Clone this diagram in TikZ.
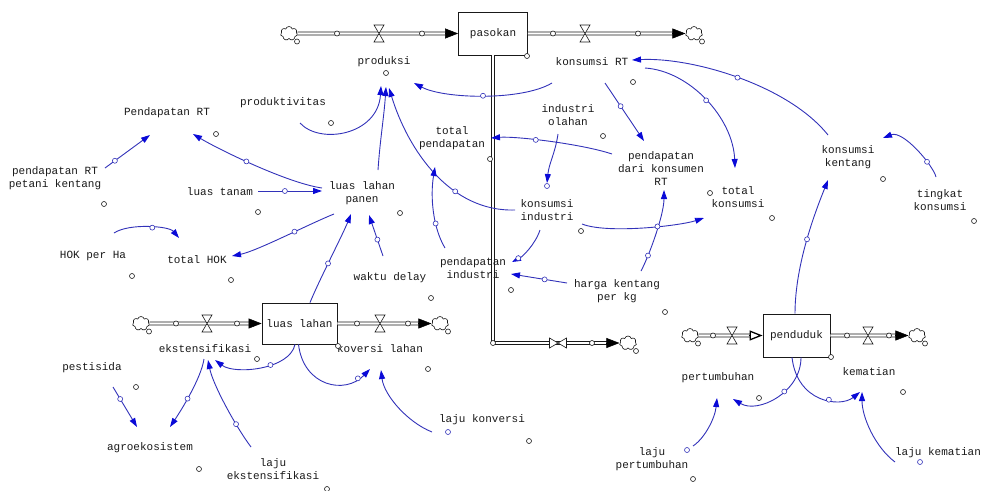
\documentclass[tikz,border=0pt]{standalone}
\usepackage{fontspec}
\setmonofont{Liberation Mono}
\usetikzlibrary{arrows.meta,shapes.symbols}

\definecolor{linkblue}{RGB}{50,50,185}
\definecolor{tipblue}{RGB}{10,10,215}
\definecolor{ink}{RGB}{25,25,25}

\tikzset{
  var/.style={font=\ttfamily\fontsize{11}{13}\selectfont, text=ink, align=center, inner sep=1pt},
  stock/.style={draw=ink, line width=.8pt, fill=white, inner sep=1pt,
    font=\ttfamily\fontsize{11}{13}\selectfont, text=ink},
  pipe/.style={draw=ink, double=white, double distance=2.4pt, line width=.7pt},
  pipehead/.style={draw=black, line width=.5pt, -{Triangle[length=13pt,width=10pt]}},
  puff/.style={cloud, cloud puffs=7, draw=ink, fill=white, line width=.6pt,
    minimum width=17pt, minimum height=14pt, inner sep=0pt},
  knob/.style={circle, draw=ink, fill=white, line width=.6pt, minimum size=5pt, inner sep=0pt},
  hdl/.style={knob, draw=linkblue},
  link/.style={draw=linkblue, line width=.9pt, -{Triangle[length=9pt,width=6pt,color=tipblue]}},
  valve/.pic={\filldraw[draw=ink, fill=white, line width=.6pt]
    (-5,-8.5) -- (5,-8.5) -- (-5,8.5) -- (5,8.5) -- cycle;}
}

\begin{document}
\begin{tikzpicture}[x=1pt, y=-1pt]
\useasboundingbox (0,0) rectangle (984,490);

% stocks and clouds
\node[stock, minimum width=69pt, minimum height=43pt] (pasokan) at (493,33.5) {pasokan};
\node[stock, minimum width=75pt, minimum height=41pt] (lahan) at (299.5,323.5) {luas lahan};
\node[stock, minimum width=67pt, minimum height=43pt] (penduduk) at (796.5,335.5) {penduduk};

\node[puff] (c1) at (289,33.5) {};
\node[puff] (c2) at (694,33.5) {};
\node[puff] (c3) at (628,343) {};
\node[puff] (c4) at (141,323.5) {};
\node[puff] (c5) at (440,323.5) {};
\node[puff] (c6) at (690,335.5) {};
\node[puff] (c7) at (917,335.5) {};
\foreach \c in {c1,c2,c3,c4,c5,c6,c7}
  \node[knob] at ([shift={(8,8)}]\c.center) {};

% pipes
\draw[pipe, shorten >=10pt] (c1) -- (pasokan);
\draw[pipe, shorten >=10pt] (pasokan) -- (c2);
\draw[pipe, shorten >=10pt] (pasokan.south) |- (c3.west);
\draw[pipe, shorten >=10pt] (c4) -- (lahan);
\draw[pipe, shorten >=10pt] (lahan) -- (c5);
\draw[pipe, shorten >=10pt] (c6) -- (penduduk);
\draw[pipe, shorten >=10pt] (penduduk) -- (c7);

\draw[pipehead] ([xshift=-13pt]pasokan.west) -- (pasokan.west);
\draw[pipehead] ([xshift=-13pt]c2.west) -- (c2.west);
\draw[pipehead] ([xshift=-13pt]c3.west) -- (c3.west);
\draw[pipehead] ([xshift=-13pt]lahan.west) -- (lahan.west);
\draw[pipehead] ([xshift=-13pt]c5.west) -- (c5.west);
\draw[line width=.5pt, -{Triangle[open,length=13pt,width=10pt,line width=1.3pt,fill=white]}]
  ([xshift=-14pt]penduduk.west) -- (penduduk.west);
\draw[pipehead] ([xshift=-13pt]c7.west) -- (c7.west);

\pic at (379,33.5) {valve};
\pic at (585,33.5) {valve};
\pic[rotate=90] at (558,343) {valve};
\pic at (207,323.5) {valve};
\pic at (380,323.5) {valve};
\pic at (732,335.5) {valve};
\pic at (868,335.5) {valve};

\foreach \x/\y in {337/33.5, 422/33.5, 553/33.5, 638/33.5, 490/159, 493/343, 592/343,
    176/323.5, 237/323.5, 357/323.5, 408/323.5, 713/335.5, 847/335.5, 889/335.5}
  \node[knob] at (\x,\y) {};

% variables
\node[var] (prod) at (384,62) {produksi};
\node[var] (krt) at (592,62) {konsumsi RT};
\node[var] (ekst) at (205,349) {ekstensifikasi};
\node[var] (konv) at (380,349) {koversi lahan};
\node[var] (pert) at (718,378) {pertumbuhan};
\node[var] (mati) at (869,372) {kematian};
\node[var] (prodktv) at (283,103) {produktivitas};
\node[var] (pendrt) at (167,113) {Pendapatan RT};
\node[var] (petani) at (55,178) {pendapatan RT\\petani kentang};
\node[var] (tanam) at (220,192) {luas tanam};
\node[var] (panen) at (362,193) {luas lahan\\panen};
\node[var] (hokha) at (93,256) {HOK per Ha};
\node[var] (tothok) at (197,260) {total HOK};
\node[var] (delay) at (390,278) {waktu delay};
\node[var] (totpend) at (452,138) {total\\pendapatan};
\node[var] (olahan) at (568,115) {industri\\olahan};
\node[var] (pendkon) at (661,169) {pendapatan\\dari konsumen\\RT};
\node[var] (kind) at (547,210) {konsumsi\\industri};
\node[var] (pendind) at (473,268) {pendapatan\\industri};
\node[var] (harga) at (617,291) {harga kentang\\per kg};
\node[var] (totkon) at (738,197) {total\\konsumsi};
\node[var] (kkent) at (848,157) {konsumsi\\kentang};
\node[var] (tingkat) at (940,200) {tingkat\\konsumsi};
\node[var] (lkonv) at (482,420) {laju konversi};
\node[var] (lekst) at (273,469) {laju\\ekstensifikasi};
\node[var] (agro) at (150,448) {agroekosistem};
\node[var] (pest) at (92,368) {pestisida};
\node[var] (lpert) at (652,459) {laju\\pertumbuhan};
\node[var] (lmati) at (938,453) {laju kematian};

% links
\draw[link] ([shift={(17,20)}]prodktv.center) .. controls +(20,22) and +(-3,49) .. ([shift={(-3,24)}]prod.center);
\draw[link] ([shift={(16,-23)}]panen.center) .. controls +(2,-30) and +(-2,30) .. ([shift={(2,25)}]prod.center);
\draw[link] ([shift={(-32,0)}]kind.center) .. controls +(-65,2) and +(19,62) .. ([shift={(5,26)}]prod.center) node[hdl, pos=.35] {};
\draw[link] ([shift={(-40,21)}]krt.center) .. controls +(-30,18) and +(30,16) .. ([shift={(30,21)}]prod.center) node[hdl, pos=.5] {};
\draw[link] ([shift={(-40,-5)}]panen.center) .. controls +(-35,-5) and +(25,15) .. ([shift={(26,21)}]pendrt.center) node[hdl, pos=.55] {};
\draw[link] ([shift={(38,-1)}]tanam.center) -- node[hdl, pos=.42] {} ([shift={(-40,-2)}]panen.center);
\draw[link] ([shift={(50,-10)}]petani.center) -- node[hdl, pos=.22] {} ([shift={(-17,22)}]pendrt.center);
\draw[link] ([shift={(21,-23)}]hokha.center) .. controls +(15,-10) and +(-10,-12) .. ([shift={(-18,-22)}]tothok.center) node[hdl, pos=.55] {};
\draw[link] ([shift={(-28,21)}]panen.center) .. controls +(-25,10) and +(25,-5) .. ([shift={(35,-4)}]tothok.center) node[hdl, pos=.4] {};
\draw[link] ([xshift=10.5pt]lahan.north) .. controls +(8,-20) and +(-8,20) .. ([shift={(-11,21)}]panen.center) node[hdl, pos=.45] {};
\draw[link] ([shift={(-7,-22)}]delay.center) -- node[hdl, pos=.4] {} ([shift={(7,22)}]panen.center);
\draw[link] ([shift={(-28,-20)}]pendind.center) .. controls +(-12,-20) and +(-5,30) .. ([shift={(-17,29)}]totpend.center) node[hdl, pos=.35] {};
\draw[link] ([shift={(-49,-15)}]pendkon.center) .. controls +(-30,-10) and +(25,-2) .. ([shift={(39,0)}]totpend.center) node[hdl, pos=.6] {};
\draw[link] ([shift={(13,21)}]krt.center) -- node[hdl, pos=.4] {} ([shift={(-17,-28)}]pendkon.center);
\draw[link] ([shift={(-10,19)}]olahan.center) .. controls +(-3,20) and +(2,-20) .. ([shift={(0,-27)}]kind.center);
\node[hdl] at ([shift={(0,-24)}]kind.center) {};
\draw[link] ([shift={(-7,20)}]kind.center) .. controls +(-5,15) and +(10,-5) .. ([shift={(39,-6)}]pendind.center) node[hdl, pos=.8] {};
\draw[link] ([shift={(-50,-8)}]harga.center) -- node[hdl, pos=.4] {} ([shift={(38,6)}]pendind.center);
\draw[link] ([shift={(24,-20)}]harga.center) .. controls +(8,-15) and +(0,25) .. ([shift={(3,21)}]pendkon.center) node[hdl, pos=.25] {};
\draw[link] ([shift={(35,14)}]kind.center) .. controls +(25,10) and +(-25,8) .. ([shift={(-34,21)}]totkon.center) node[hdl, pos=.6] {};
\draw[link] ([shift={(-20,-22)}]kkent.center) .. controls +(-40,-50) and +(60,-3) .. ([shift={(40,-2)}]krt.center) node[hdl, pos=.5] {};
\draw[link] ([shift={(53,6)}]krt.center) .. controls +(45,3) and +(-2,-50) .. ([shift={(-3,-29)}]totkon.center) node[hdl, pos=.5] {};
\draw[link] ([shift={(-4,-23)}]tingkat.center) .. controls +(-3,-12) and +(20,-8) .. ([shift={(35,-19)}]kkent.center) node[hdl, pos=.3] {};
\draw[link] ([xshift=-1.5pt]penduduk.north) .. controls +(0,-50) and +(-12,30) .. ([shift={(-20,23)}]kkent.center) node[hdl, pos=.5] {};
\draw[link] ([xshift=4.5pt]penduduk.south) .. controls +(0,35) and +(25,15) .. ([shift={(15,21)}]pert.center) node[hdl, pos=.4] {};
\draw[link] ([xshift=-4.5pt]penduduk.south) .. controls +(5,45) and +(-20,16) .. ([shift={(-9,20)}]mati.center) node[hdl, pos=.6] {};
\draw[link] ([shift={(41,-13)}]lpert.center) .. controls +(12,-8) and +(-2,20) .. ([shift={(-1,20)}]pert.center);
\draw[link] ([shift={(-43,9)}]lmati.center) .. controls +(-20,-15) and +(0,25) .. ([shift={(-7,20)}]mati.center);
\draw[link] ([xshift=-4.5pt]lahan.south) .. controls +(-5,25) and +(20,15) .. ([shift={(10,11)}]ekst.center) node[hdl, pos=.4] {};
\draw[link] ([xshift=-1pt]lahan.south) .. controls +(5,42) and +(-25,26) .. ([shift={(-10,20)}]konv.center) node[hdl, pos=.85] {};
\draw[link] ([shift={(-50,12)}]lkonv.center) .. controls +(-25,-10) and +(3,25) .. ([shift={(1,21)}]konv.center);
\draw[link] ([shift={(-22,-22)}]lekst.center) .. controls +(-15,-20) and +(5,25) .. ([shift={(3,11)}]ekst.center) node[hdl, pos=.3] {};
\draw[link] ([shift={(-1,10)}]ekst.center) .. controls +(-3,20) and +(10,-15) .. ([shift={(20,-21)}]agro.center) node[hdl, pos=.55] {};
\draw[link] ([shift={(21,19)}]pest.center) -- node[hdl, pos=.3] {} ([shift={(-13,-21)}]agro.center);

% variable handles
\foreach \x/\y in {386/73, 633/82, 331/123, 216/134, 104/204, 258/212, 400/213, 132/276,
    231/280, 431/298, 603/136, 581/231, 511/290, 665/312, 710/193, 772/218, 883/179,
    974/221, 529/441, 199/469, 327/489, 136/387, 257/359, 428/369, 759/398, 903/392,
    693/479, 338/346, 527/56, 831/357}
  \node[knob] at (\x,\y) {};
\foreach \x/\y in {687/450, 920/462, 448/432}
  \node[hdl] at (\x,\y) {};
\end{tikzpicture}
\end{document}
